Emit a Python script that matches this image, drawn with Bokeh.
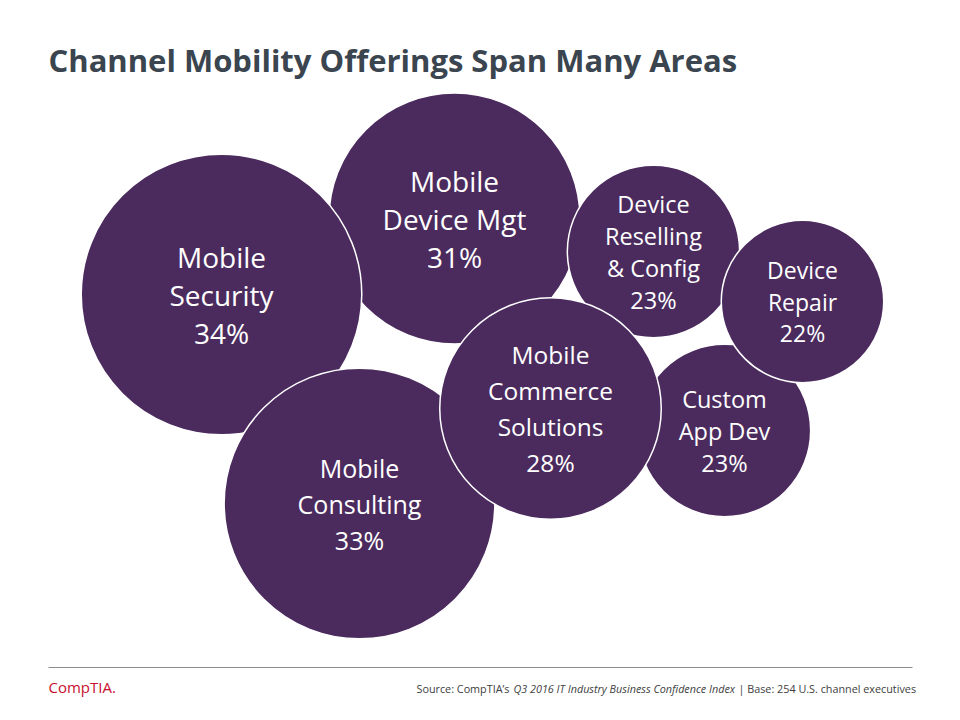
from bokeh.plotting import figure
from bokeh.models import Range1d, ColumnDataSource
from bokeh.core.properties import value
from bokeh.embed import file_html
from bokeh.resources import INLINE

# ---- data ----
title_text = "Channel Mobility Offerings Span Many Areas"
labels = ["Mobile\nDevice Mgt", "Mobile\nSecurity", "Mobile\nConsulting",
          "Device\nReselling\n& Config", "Custom\nApp Dev", "Device\nRepair",
          "Mobile\nCommerce\nSolutions"]
pcts = [31, 34, 33, 23, 23, 22, 28]
source_parts = ["Source: CompTIA\u2019s ", "Q3 2016  IT Industry Business Confidence Index",
                "| Base: 254 U.S. channel executives"]
logo_text = "CompTIA."

# ---- layout (bubble centres, text styles) ----
cx = [454, 221, 359, 653, 724, 802, 550]
cy = [218, 294, 503, 251, 430, 301, 408]
font_px = [28, 28, 25, 23.5, 23.5, 23, 24.5]
line_gap = [38, 38, 36, 32, 32, 31.5, 36]

def radius_of(v):
    return 4.92 * v - 27.0

FILL = "#4b2b5e"

p = figure(width=960, height=720, output_backend="svg", toolbar_location=None,
           x_range=Range1d(0, 960), y_range=Range1d(720, 0),
           min_border=0, x_axis_location=None, y_axis_location=None,
           outline_line_color=None, background_fill_color="white",
           border_fill_color="white")
p.grid.visible = False

src = ColumnDataSource(dict(x=cx, y=cy, r=[radius_of(v) for v in pcts]))
p.circle(x="x", y="y", radius="r", source=src, fill_color=FILL,
         line_color="white", line_width=1.5)

tx, ty, tt, ts = [], [], [], []
for i, (lab, v) in enumerate(zip(labels, pcts)):
    lines = lab.split("\n") + [f"{v}%"]
    n = len(lines)
    for k, ln in enumerate(lines):
        tx.append(cx[i])
        ty.append(cy[i] + (k - (n - 1) / 2) * line_gap[i])
        tt.append(ln)
        ts.append(f"{font_px[i]}px")
p.text(x=tx, y=ty, text=tt, text_font_size=ts, text_color="white",
       text_align="center", text_baseline="middle", text_font=value("Open Sans"))

# title
p.text(x=[48], y=[59], text=[title_text], text_font=value("Open Sans"),
       text_font_style="bold", text_font_size="31px", text_color="#3a454f",
       text_baseline="middle", text_align="left")

# footer rule
p.segment(x0=[48], y0=[667], x1=[912], y1=[667], line_color="#8c8c8c", line_width=1)

# logo
p.text(x=[48], y=[686], text=[logo_text], text_font=value("Open Sans"),
       text_font_size="15px", text_color="#c8102e", text_baseline="middle",
       text_align="left")

# source note
p.text(x=[416], y=[688], text=[source_parts[0]], text_font=value("Open Sans"),
       text_font_size="10.8px", text_color="#404040", text_baseline="middle")
p.text(x=[513], y=[688], text=[source_parts[1]], text_font=value("Open Sans"),
       text_font_size="10.8px", text_font_style="italic", text_color="#404040",
       text_baseline="middle")
p.text(x=[738], y=[688], text=[source_parts[2]], text_font=value("Open Sans"),
       text_font_size="10.8px", text_color="#404040", text_baseline="middle",
       text_align="left")

open("out.html", "w").write(file_html(p, INLINE))
